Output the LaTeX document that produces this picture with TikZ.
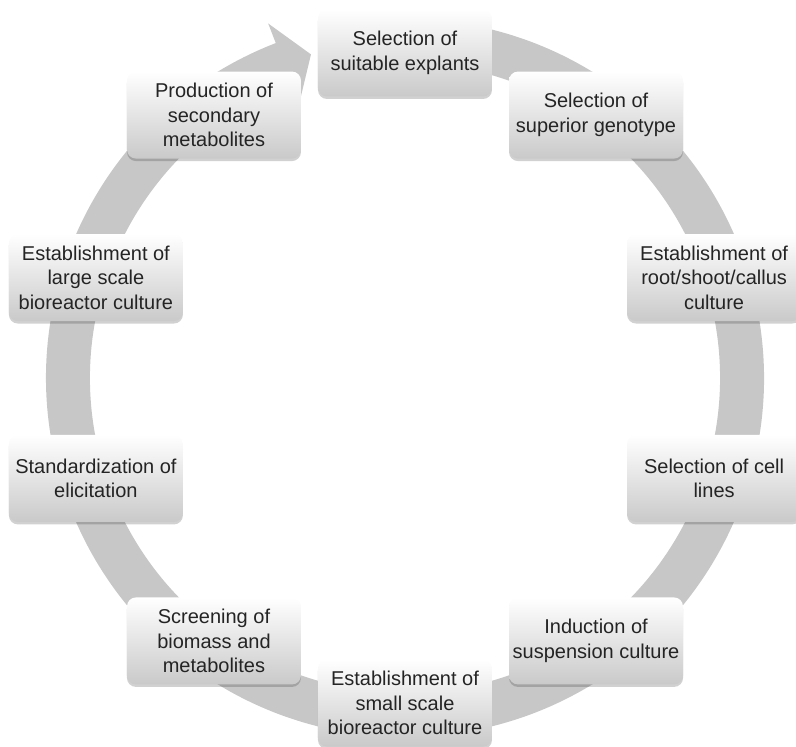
\documentclass[tikz,border=0pt]{standalone}
\usepackage{fontspec}
\setmainfont{Liberation Sans}
\usepackage{tikz}
\usetikzlibrary{shadows}
\usepackage{color}
\definecolor{ringgray}{rgb}{0.78, 0.78, 0.78}
\definecolor{textgray}{rgb}{0.14, 0.14, 0.14}
\tikzstyle{stepbox}=[rounded corners=9pt, minimum width=174pt, minimum height=87pt,
  align=center, inner sep=3pt, top color=white, bottom color=gray!42,
  drop shadow={shadow xshift=0pt, shadow yshift=-2.5pt, fill=black, opacity=0.18},
  text=textgray, font=\fontsize{20}{24.5}\selectfont]
\tikzstyle{ring}=[fill=ringgray, draw=none]

\begin{document}
\begin{tikzpicture}[x=1pt, y=1pt]

    % fix the page to the reference's margins
    \useasboundingbox (-405,-369) rectangle (391,378);

    % the grey ring, arrow head just left of the first box
    \fill[ring] (100:359) arc[start angle=100, end angle=-248.9, radius=359]
      -- (111.1:380) -- (106.2:337) -- (111.1:294)
      -- (-248.9:315) arc[start angle=-248.9, end angle=100, radius=315] -- cycle;

    % the ten steps, using a loop, clockwise from the top
    \foreach \i/\txt in {1/{Selection of\\suitable explants},
                         2/{Selection of\\superior genotype},
                         3/{Establishment of\\root/shoot/callus\\culture},
                         4/{Selection of cell\\lines},
                         5/{Induction of\\suspension culture},
                         6/{Establishment of\\small scale\\bioreactor culture},
                         7/{Screening of\\biomass and\\metabolites},
                         8/{Standardization of\\elicitation},
                         9/{Establishment of\\large scale\\bioreactor culture},
                         10/{Production of\\secondary\\metabolites}}
    \node[stepbox] (b\i) at ({126-36*\i}:325) {\txt};
  \end{tikzpicture}
\end{document}
